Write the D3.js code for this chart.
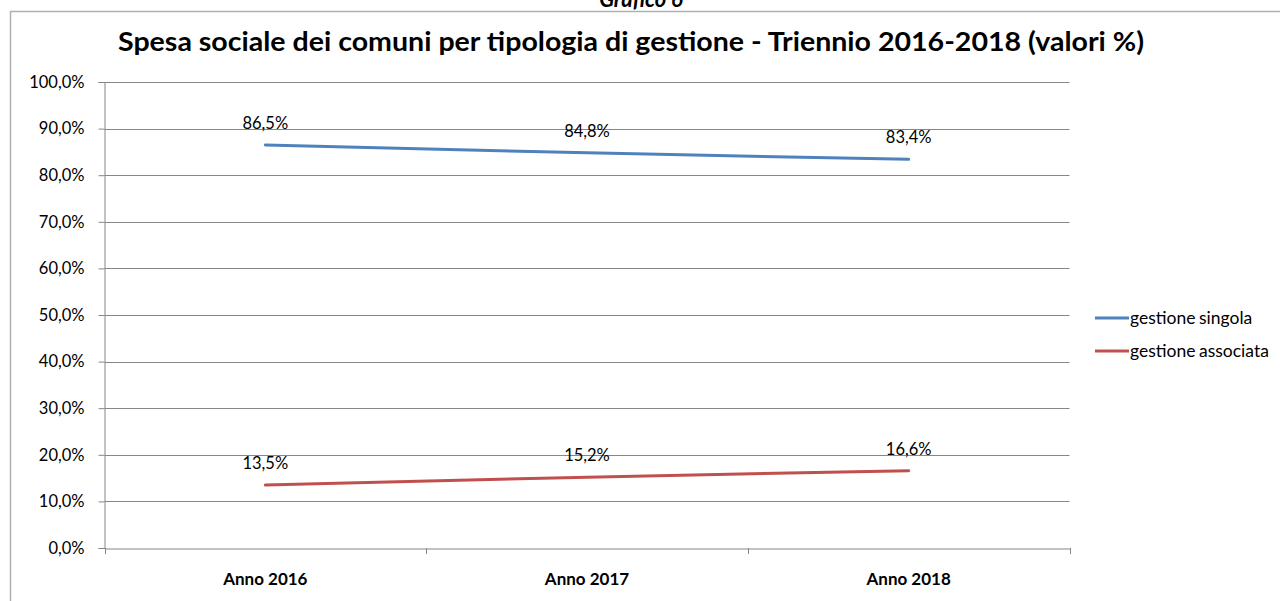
<!DOCTYPE html>
<html>
<head>
  <meta charset='utf-8'>
  <title>Grafico 6</title>
  <script src="https://cdnjs.cloudflare.com/ajax/libs/d3/7.8.5/d3.min.js"></script>
  <style>
    html, body {
      margin: 0;
      padding: 0;
      background: #fff;
      font-family: 'Lato', sans-serif;
    }
    svg { display: block; }
  </style>
</head>
<body>
  <svg id="chart"></svg>
  <script>
    // data
    const years = ["Anno 2016", "Anno 2017", "Anno 2018"];
    const singola = [86.5, 84.8, 83.4];
    const associata = [13.5, 15.2, 16.6];
    const seriesNames = ["gestione singola", "gestione associata"];
    const yTicks = [0, 10, 20, 30, 40, 50, 60, 70, 80, 90, 100];

    const width = 1280;
    const height = 601;
    const plot = { left: 104.5, right: 1069.5, top: 82, bottom: 548 };
    const colors = ["#4f81bd", "#c0504d"];
    const gridColor = "#868686";

    const fmt = v => v.toFixed(1).replace(".", ",") + "%";

    const svg = d3.select("#chart")
      .attr("width", width)
      .attr("height", height);

    // outer frame (only top and left edges are in view)
    svg.append("rect")
      .attr("x", 10.5).attr("y", 11.5)
      .attr("width", 1400).attr("height", 700)
      .attr("fill", "none")
      .attr("stroke", "#b0b0b0")
      .attr("stroke-width", 1.5);

    svg.append("text")
      .attr("x", 641).attr("y", 7)
      .attr("text-anchor", "middle")
      .style("font-weight", "bold")
      .style("font-style", "italic")
      .style("font-size", "22px")
      .text("Grafico 6");

    svg.append("text")
      .attr("x", 631).attr("y", 51)
      .attr("text-anchor", "middle")
      .attr("textLength", 1026)
      .attr("lengthAdjust", "spacingAndGlyphs")
      .style("font-weight", "bold")
      .style("font-size", "26px")
      .text("Spesa sociale dei comuni per tipologia di gestione - Triennio 2016-2018 (valori %)");

    const x = d3.scaleBand().domain(years).range([plot.left, plot.right]);
    const y = d3.scaleLinear().domain([0, 100]).range([plot.bottom, plot.top]);

    // gridlines
    svg.append("g")
      .selectAll("line")
      .data(yTicks.filter(d => d > 0))
      .join("line")
      .attr("x1", plot.left).attr("x2", plot.right)
      .attr("y1", d => Math.round(y(d)) + 0.5).attr("y2", d => Math.round(y(d)) + 0.5)
      .attr("stroke", gridColor)
      .attr("stroke-width", 1);

    // y axis
    const yAxis = svg.append("g")
      .attr("transform", `translate(${plot.left},0)`)
      .call(d3.axisLeft(y).tickValues(yTicks).tickFormat(fmt).tickSize(6).tickPadding(14));
    yAxis.select(".domain").attr("stroke", gridColor);
    yAxis.selectAll(".tick line").attr("stroke", gridColor);
    yAxis.selectAll(".tick text")
      .attr("fill", "#000")
      .style("font-family", "Lato, sans-serif")
      .style("font-size", "16.5px");

    // x axis
    const xAxis = svg.append("g")
      .attr("transform", `translate(0,${plot.bottom + 0.5})`)
      .call(d3.axisBottom(x).tickSize(0).tickPadding(24));
    xAxis.select(".domain").attr("stroke", gridColor);
    xAxis.selectAll(".tick text")
      .attr("fill", "#000")
      .style("font-family", "Lato, sans-serif")
      .style("font-weight", "bold")
      .style("font-size", "17px");
    // tick marks between categories
    svg.append("g")
      .selectAll("line")
      .data(years.map(d => x(d)).concat([plot.right]))
      .join("line")
      .attr("x1", d => Math.round(d) + 0.5).attr("x2", d => Math.round(d) + 0.5)
      .attr("y1", plot.bottom).attr("y2", plot.bottom + 6)
      .attr("stroke", gridColor);

    const cx = d => x(d) + x.bandwidth() / 2;
    const line = d3.line().x(d => cx(d.year)).y(d => y(d.v));

    const series = [singola, associata].map((vals, i) => ({
      name: seriesNames[i],
      color: colors[i],
      points: vals.map((v, j) => ({ year: years[j], v }))
    }));

    series.forEach(s => {
      svg.append("path")
        .datum(s.points)
        .attr("d", line)
        .attr("fill", "none")
        .attr("stroke", s.color)
        .attr("stroke-width", 3)
        .attr("stroke-linecap", "round");

      svg.append("g")
        .selectAll("text")
        .data(s.points)
        .join("text")
        .attr("x", d => cx(d.year))
        .attr("y", d => y(d.v) - 16)
        .attr("text-anchor", "middle")
        .style("font-size", "16.5px")
        .text(d => fmt(d.v));
    });

    // legend
    const legend = svg.append("g")
      .selectAll("g")
      .data(series)
      .join("g")
      .attr("transform", (d, i) => `translate(1095,${318 + i * 33})`);
    legend.append("line")
      .attr("x1", 0).attr("x2", 34)
      .attr("stroke", d => d.color)
      .attr("stroke-width", 3);
    legend.append("text")
      .attr("x", 35).attr("y", 6)
      .style("font-size", "17.5px")
      .style("word-spacing", "-1px")
      .text(d => d.name);
  </script>
</body>
</html>
